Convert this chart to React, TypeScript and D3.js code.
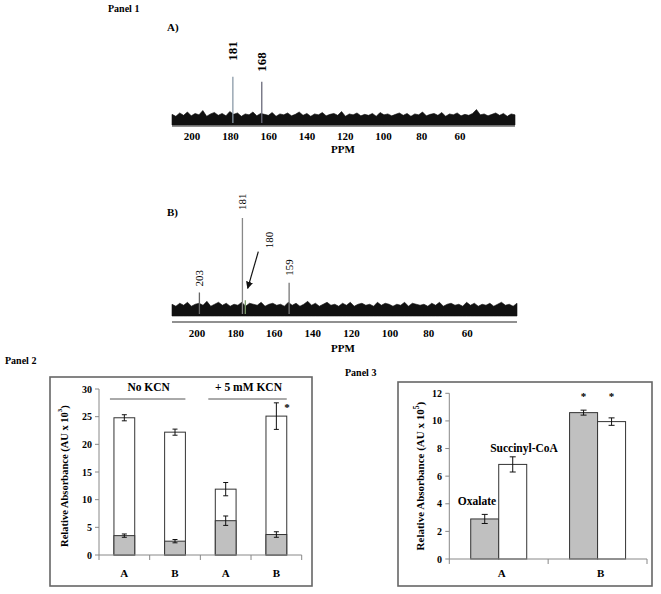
import React from 'react';
import * as d3 from 'd3';

// ---------- Panel 1 data ----------
const ppmTicks = [200, 180, 160, 140, 120, 100, 80, 60];
const peaksA = [
  { ppm: 178.7, h: 100, label: '181' },
  { ppm: 163.6, h: 89.6, label: '168' },
];
const peaksB = [
  { ppm: 198.8, h: 24, label: '203' },
  { ppm: 176.5, h: 100, label: '181' },
  { ppm: 175.0, h: 16, label: '' },
  { ppm: 152.3, h: 34, label: '159' },
];
const noiseA = [22,18,25,20,27,19,24,21,30,18,23,26,20,24,19,28,22,25,18,23,21,27,19,24,22,20,26,18,23,21,25,19,22,27,20,24,18,23,21,26,19,22,24,20,28,18,23,21,25,19,22,20,24,18,26,21,23,19,22,25,20,24,18,23,21,27,19,22,24,20,26,18,23,21,25,19,22,20,24,32,21,23,19,22,25,20,24,18,23,21];
const noiseB = [12,10,13,11,14,10,12,13,11,15,10,12,14,11,13,10,12,11,14,10,13,12,11,14,10,12,13,11,12,10,14,11,13,10,12,15,11,13,10,12,14,11,12,10,13,11,14,10,12,13,11,12,10,14,11,13,12,10,12,11,14,10,13,12,11,12,10,13,11,14,10,12,13,11,12,10,14,11,13,10,12,11,13,10,12,14,11,12,10,13];

// ---------- Panel 2 data ----------
const p2Categories = ['A', 'B', 'A', 'B'];
const p2Total = [24.8, 22.2, 11.9, 25.1];
const p2TotalErr = [0.55, 0.55, 1.2, 2.4];
const p2Gray = [3.5, 2.5, 6.2, 3.7];
const p2GrayErr = [0.3, 0.3, 0.85, 0.5];
const p2Ticks = [0, 5, 10, 15, 20, 25, 30];
const p2Groups = ['No KCN', '+ 5 mM KCN'];

// ---------- Panel 3 data ----------
const p3Categories = ['A', 'B'];
const p3Series = ['Oxalate', 'Succinyl-CoA'];
const p3Oxalate = [2.9, 10.6];
const p3OxalateErr = [0.33, 0.18];
const p3Succinyl = [6.85, 9.95];
const p3SuccinylErr = [0.55, 0.27];
const p3Ticks = [0, 2, 4, 6, 8, 10, 12];

const FONT = '"Liberation Serif", "Times New Roman", serif';

function Spectrum({ xDomain, xRange, baseY, topY, axisY, labelY, ppmY, noise, peaks, peakColor, labelFont, labelGaps, bold }) {
  const x = d3.scaleLinear().domain(xDomain).range(xRange);
  const y = d3.scaleLinear().domain([0, 100]).range([baseY, topY]);
  const idx = d3.scaleLinear().domain([0, noise.length - 1]).range(xDomain);
  const area = d3.area<number>()
    .x((_, i) => x(idx(i)))
    .y0(baseY)
    .y1((d) => y(d))
    .curve(d3.curveLinear);
  return (
    <g>
      <path d={area(noise) || ''} fill="#111" stroke="#111" strokeWidth={0.6} />
      {peaks.map((p, i) => (
        <line key={i} x1={x(p.ppm)} x2={x(p.ppm)} y1={baseY - 2} y2={y(p.h)} stroke={peakColor[i]} strokeWidth={1.3} />
      ))}
      {peaks.map((p, i) => p.label ? (
        <text key={'l' + i} transform={`translate(${x(p.ppm)},${y(p.h) - labelGaps[i]}) rotate(-90)`}
          dominantBaseline="central" fontSize={labelFont} fontWeight={bold ? 'bold' : 'normal'} fontFamily={FONT}>{p.label}</text>
      ) : null)}
      <line x1={xRange[0]} x2={xRange[1]} y1={axisY} y2={axisY} stroke="#222" strokeWidth={1.2} />
      {ppmTicks.map((t) => (
        <text key={t} x={x(t)} y={labelY} textAnchor="middle" fontSize={11} fontWeight="bold" fontFamily={FONT}>{t}</text>
      ))}
      <text x={343} y={ppmY} textAnchor="middle" fontSize={11} fontWeight="bold" fontFamily={FONT}>PPM</text>
    </g>
  );
}

function ErrorBar({ x, y0, y1, cap }) {
  return (
    <g stroke="#111" strokeWidth={1}>
      <line x1={x} x2={x} y1={y0} y2={y1} />
      <line x1={x - cap} x2={x + cap} y1={y0} y2={y0} />
      <line x1={x - cap} x2={x + cap} y1={y1} y2={y1} />
    </g>
  );
}

function Panel2() {
  const x = d3.scaleBand<number>().domain(d3.range(p2Categories.length)).range([99, 301.7]).padding(0);
  const y = d3.scaleLinear().domain([0, 30]).range([555, 389]);
  const bw = x.bandwidth() * 0.41;
  const cx = (i: number) => (x(i) as number) + x.bandwidth() / 2;
  const boundaries = [...d3.range(p2Categories.length).map((i) => x(i) as number), 301.7];
  return (
    <g fontFamily={FONT}>
      <rect x={50} y={377} width={262} height={209} fill="none" stroke="#666" strokeWidth={1.6} />
      {p2Total.map((v, i) => (
        <rect key={'t' + i} x={cx(i) - bw / 2} y={y(v)} width={bw} height={y(0) - y(v)} fill="#fff" stroke="#333" strokeWidth={1} />
      ))}
      {p2Gray.map((v, i) => (
        <rect key={'g' + i} x={cx(i) - bw / 2} y={y(v)} width={bw} height={y(0) - y(v)} fill="#c0c0c0" stroke="#333" strokeWidth={1} />
      ))}
      {p2Total.map((v, i) => (
        <ErrorBar key={'te' + i} x={cx(i)} y0={y(v - p2TotalErr[i])} y1={y(v + p2TotalErr[i])} cap={2.5} />
      ))}
      {p2Gray.map((v, i) => (
        <ErrorBar key={'ge' + i} x={cx(i)} y0={y(v - p2GrayErr[i])} y1={y(v + p2GrayErr[i])} cap={2.5} />
      ))}
      {/* axes */}
      <line x1={99} x2={99} y1={y(30)} y2={y(0)} stroke="#888" strokeWidth={1} />
      <line x1={99} x2={301.7} y1={y(0)} y2={y(0)} stroke="#888" strokeWidth={1} />
      {p2Ticks.map((t) => (
        <g key={t}>
          <line x1={95} x2={99} y1={y(t)} y2={y(t)} stroke="#888" />
          <text x={92} y={y(t)} dy="0.35em" textAnchor="end" fontSize={10} fontWeight="bold">{t}</text>
        </g>
      ))}
      {boundaries.map((b, i) => (
        <line key={i} x1={b} x2={b} y1={y(0)} y2={y(0) + 5} stroke="#888" />
      ))}
      {p2Categories.map((c, i) => (
        <text key={i} x={cx(i)} y={577} textAnchor="middle" fontSize={11} fontWeight="bold">{c}</text>
      ))}
      {p2Groups.map((g, gi) => {
        const l = cx(gi * 2) - bw / 2 - (gi === 0 ? 4 : 7);
        const r = cx(gi * 2 + 1) + bw / 2;
        return (
          <g key={g}>
            <text x={(l + r) / 2 + 1} y={391} textAnchor="middle" fontSize={11.5} fontWeight="bold">{g}</text>
            <line x1={l} x2={r} y1={399} y2={399} stroke="#555" strokeWidth={1} />
          </g>
        );
      })}
      <text x={287} y={411} textAnchor="middle" fontSize={11} fontWeight="bold">*</text>
      <text transform={`translate(64,${(y(0) + y(30)) / 2 + 4}) rotate(-90)`} textAnchor="middle" dominantBaseline="central"
        fontSize={10.5} fontWeight="bold">Relative Absorbance (AU x 10<tspan dy="-4" fontSize={7}>3</tspan><tspan dy="4">)</tspan></text>
    </g>
  );
}

function Panel3() {
  const x = d3.scaleBand<string>().domain(p3Categories).range([449.3, 647]).padding(0);
  const y = d3.scaleLinear().domain([0, 12]).range([559, 393.3]);
  const barW = 28;
  const series = [
    { name: p3Series[0], vals: p3Oxalate, errs: p3OxalateErr, fill: '#c0c0c0' },
    { name: p3Series[1], vals: p3Succinyl, errs: p3SuccinylErr, fill: '#fff' },
  ];
  const cx = (c: string) => (x(c) as number) + x.bandwidth() / 2;
  const bx = (c: string, s: number) => cx(c) - barW + s * barW;
  return (
    <g fontFamily={FONT}>
      <rect x={398} y={382} width={254} height={204} fill="none" stroke="#666" strokeWidth={1.6} />
      {series.map((s, si) => s.vals.map((v, ci) => (
        <rect key={si + '-' + ci} x={bx(p3Categories[ci], si)} y={y(v)} width={barW} height={y(0) - y(v)} fill={s.fill} stroke="#333" strokeWidth={1} />
      )))}
      {series.map((s, si) => s.vals.map((v, ci) => (
        <ErrorBar key={'e' + si + '-' + ci} x={bx(p3Categories[ci], si) + barW / 2} y0={y(v - s.errs[ci])} y1={y(v + s.errs[ci])} cap={3} />
      )))}
      <line x1={449.3} x2={449.3} y1={y(12)} y2={y(0)} stroke="#888" />
      <line x1={449.3} x2={647} y1={y(0)} y2={y(0)} stroke="#888" />
      {p3Ticks.map((t) => (
        <g key={t}>
          <line x1={445.3} x2={449.3} y1={y(t)} y2={y(t)} stroke="#888" />
          <text x={442} y={y(t)} dy="0.35em" textAnchor="end" fontSize={10} fontWeight="bold">{t}</text>
        </g>
      ))}
      {[...p3Categories.map((c) => x(c) as number), 647].map((b, i) => (
        <line key={i} x1={b} x2={b} y1={y(0)} y2={y(0) + 5} stroke="#888" />
      ))}
      {p3Categories.map((c) => (
        <text key={c} x={cx(c) + 3} y={577} textAnchor="middle" fontSize={11} fontWeight="bold">{c}</text>
      ))}
      {series.map((s, si) => (
        <text key={'a' + si} x={bx('B', si) + barW / 2} y={400} textAnchor="middle" fontSize={11} fontWeight="bold">*</text>
      ))}
      <text x={477} y={505} textAnchor="middle" fontSize={11.5} fontWeight="bold">{p3Series[0]}</text>
      <text x={524} y={452} textAnchor="middle" fontSize={11.5} fontWeight="bold">{p3Series[1]}</text>
      <text transform={`translate(419.5,${(y(0) + y(12)) / 2}) rotate(-90)`} textAnchor="middle" dominantBaseline="central"
        fontSize={11} fontWeight="bold">Relative Absorbance (AU x 10<tspan dy="-4" fontSize={7.5}>5</tspan><tspan dy="4">)</tspan></text>
    </g>
  );
}

export default function App() {
  return (
    <svg width={661} height={594} style={{ position: 'absolute', left: 0, top: 0, background: '#fff' }} fontFamily={FONT}>
      <rect width={661} height={594} fill="#fff" />
      <text x={108} y={12} fontSize={10} fontWeight="bold">Panel 1</text>
      <text x={167} y={31} fontSize={11} fontWeight="bold">A)</text>
      <Spectrum xDomain={[210.5, 31.3]} xRange={[172, 515]} baseY={125} topY={76.7} axisY={126} labelY={140} ppmY={153}
        noise={noiseA} peaks={peaksA} peakColor={['#8a9aa8', '#6a6a7a']} labelFont={13} labelGaps={[16, 10]} bold={true} />
      <text x={167} y={216} fontSize={11} fontWeight="bold">B)</text>
      <Spectrum xDomain={[213, 34.2]} xRange={[172, 517]} baseY={316} topY={218} axisY={322} labelY={337} ppmY={352}
        noise={noiseB} peaks={peaksB} peakColor={['#666', '#888', '#7a9a6a', '#777']} labelFont={11} labelGaps={[6, 8, 0, 7]} bold={false} />
      <text transform="translate(269,240) rotate(-90)" textAnchor="middle" dominantBaseline="central" fontSize={11}>180</text>
      <defs>
        <marker id="arr" viewBox="0 0 10 10" refX="9" refY="5" markerWidth="6" markerHeight="6" orient="auto">
          <path d="M0,0 L10,5 L0,10 z" fill="#111" />
        </marker>
      </defs>
      <line x1={258.3} y1={251.7} x2={247.7} y2={288.3} stroke="#111" strokeWidth={1.2} markerEnd="url(#arr)" />
      <text x={5} y={364} fontSize={10} fontWeight="bold">Panel 2</text>
      <text x={345} y={376} fontSize={10} fontWeight="bold">Panel 3</text>
      <Panel2 />
      <Panel3 />
    </svg>
  );
}
